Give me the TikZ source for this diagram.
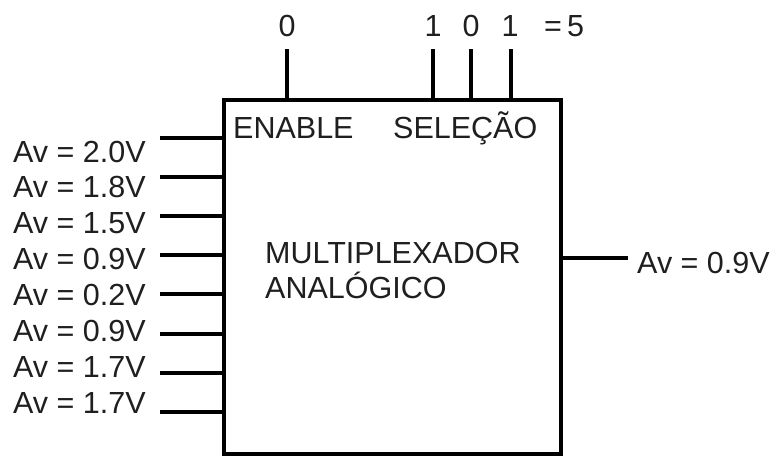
\documentclass[tikz,border=0pt]{standalone}
\usepackage{fontspec}
\setmainfont{Liberation Sans}
\begin{document}
\begin{tikzpicture}[x=1pt,y=-1pt,
  lbl/.style={font=\fontsize{30.5}{33}\selectfont, text=black!88, inner sep=0pt, anchor=base west},
  toplbl/.style={lbl, anchor=base},
  wire/.style={line width=4pt},
  muxbox/.style={draw, line width=4pt, minimum width=337pt, minimum height=354pt, inner sep=0pt, anchor=north west}]
\useasboundingbox[fill=white] (0,0) rectangle (776,455);
\node[muxbox] (mux) at (222,98) {};
% top pins
\coordinate (en) at (287,49);
\coordinate (s2) at (433,49);
\coordinate (s1) at (471,49);
\coordinate (s0) at (511,49);
\foreach \p in {en,s2,s1,s0} \draw[wire] (\p) -- (\p |- mux.north);
\node[toplbl] (ten) at (287,36) {0};
\node[toplbl] (ts2) at (433,36) {1};
\node[toplbl] (ts1) at (471,36) {0};
\node[toplbl] (ts0) at (510,36) {1};
\node[lbl] (teq) at (544,36) {=\,5};
% inner labels
\node[lbl] (lenable) at (233,138) {ENABLE};
\node[lbl] (lsel) at (393,138) {SELEÇÃO};
\node[lbl] (lmux1) at (265,263) {MULTIPLEXADOR};
\node[lbl] (lmux2) at (265,298) {ANALÓGICO};
% inputs
\foreach \v [count=\i from 0] in {2.0,1.8,1.5,0.9,0.2,0.9,1.7,1.7} {
  \coordinate (in\i) at (160,{137.5+39.2*\i});
  \draw[wire] (in\i) -- (in\i -| mux.west);
  \node[lbl] (lin\i) at (13,{162+35.9*\i}) {Av = \v V};
}
% output
\coordinate (out) at (628,258);
\draw[wire] (out -| mux.east) -- (out);
\node[lbl] (lout) at (637,273) {Av = 0.9V};
\end{tikzpicture}
\end{document}
